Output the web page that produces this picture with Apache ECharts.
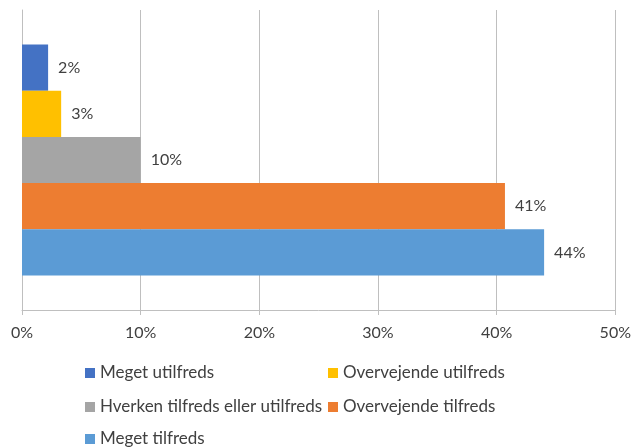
<!DOCTYPE html>
<html>
<head>
<meta charset="utf-8">
<script src="https://cdn.jsdelivr.net/npm/echarts@6/dist/echarts.min.js"></script>
<style>
html,body{margin:0;padding:0;background:#fff;}
#chart{width:634px;height:448px;}
</style>
</head>
<body>
<div id="chart"></div>
<script>
// answer categories, top to bottom
var names = ['Meget utilfreds', 'Overvejende utilfreds', 'Hverken tilfreds eller utilfreds', 'Overvejende tilfreds', 'Meget tilfreds'];
var values = [2.2, 3.3, 10.0, 40.7, 44.0];
var colors = ['#4472C4', '#FFC000', '#A5A5A5', '#ED7D31', '#5B9BD5'];
var xTicks = [0, 10, 20, 30, 40, 50];

var fontName = 'Lato';
var textColor = '#404040';
var lineColor = '#BFBFBF';

// legend placement: two columns, three rows
var legendPos = [
	{left: 85, top: 363},
	{left: 328, top: 363},
	{left: 85, top: 397},
	{left: 328, top: 397},
	{left: 85, top: 429}
];

var series = [];
var legends = [];
for (var i = 0; i < names.length; i++) {
	series.push({
		name: names[i],
		type: 'bar',
		data: [values[i]],
		barGap: '0%',
		barCategoryGap: '23%',
		itemStyle: {color: colors[i]},
		label: {
			show: true,
			position: 'right',
			distance: 10,
			fontFamily: fontName,
			fontSize: 16,
			color: textColor,
			formatter: function (p) { return Math.round(p.value) + '%'; }
		}
	});
	legends.push({
		data: [names[i]],
		left: legendPos[i].left,
		top: legendPos[i].top,
		padding: 0,
		icon: 'rect',
		itemWidth: 10,
		itemHeight: 10,
		itemGap: 5,
		selectedMode: false,
		textStyle: {fontFamily: fontName, fontSize: 17, color: textColor, lineHeight: 20, padding: [0, 0, 0, 0]}
	});
}

var chart = echarts.init(document.getElementById('chart'));
chart.setOption({
	animation: false,
	grid: {left: 22, right: 16, top: 10, bottom: 138, containLabel: false},
	legend: legends,
	xAxis: {
		type: 'value',
		min: xTicks[0],
		max: xTicks[xTicks.length - 1],
		interval: 10,
		axisLine: {show: true, lineStyle: {color: lineColor}},
		axisTick: {show: true, length: 5, lineStyle: {color: lineColor}},
		splitLine: {show: true, lineStyle: {color: lineColor}},
		axisLabel: {
			margin: 15,
			fontFamily: fontName,
			fontSize: 16,
			color: textColor,
			formatter: '{value}%'
		}
	},
	yAxis: {
		type: 'category',
		data: [''],
		axisLine: {show: true, lineStyle: {color: lineColor}},
		axisTick: {show: false},
		axisLabel: {show: false}
	},
	series: series
});
</script>
</body>
</html>
